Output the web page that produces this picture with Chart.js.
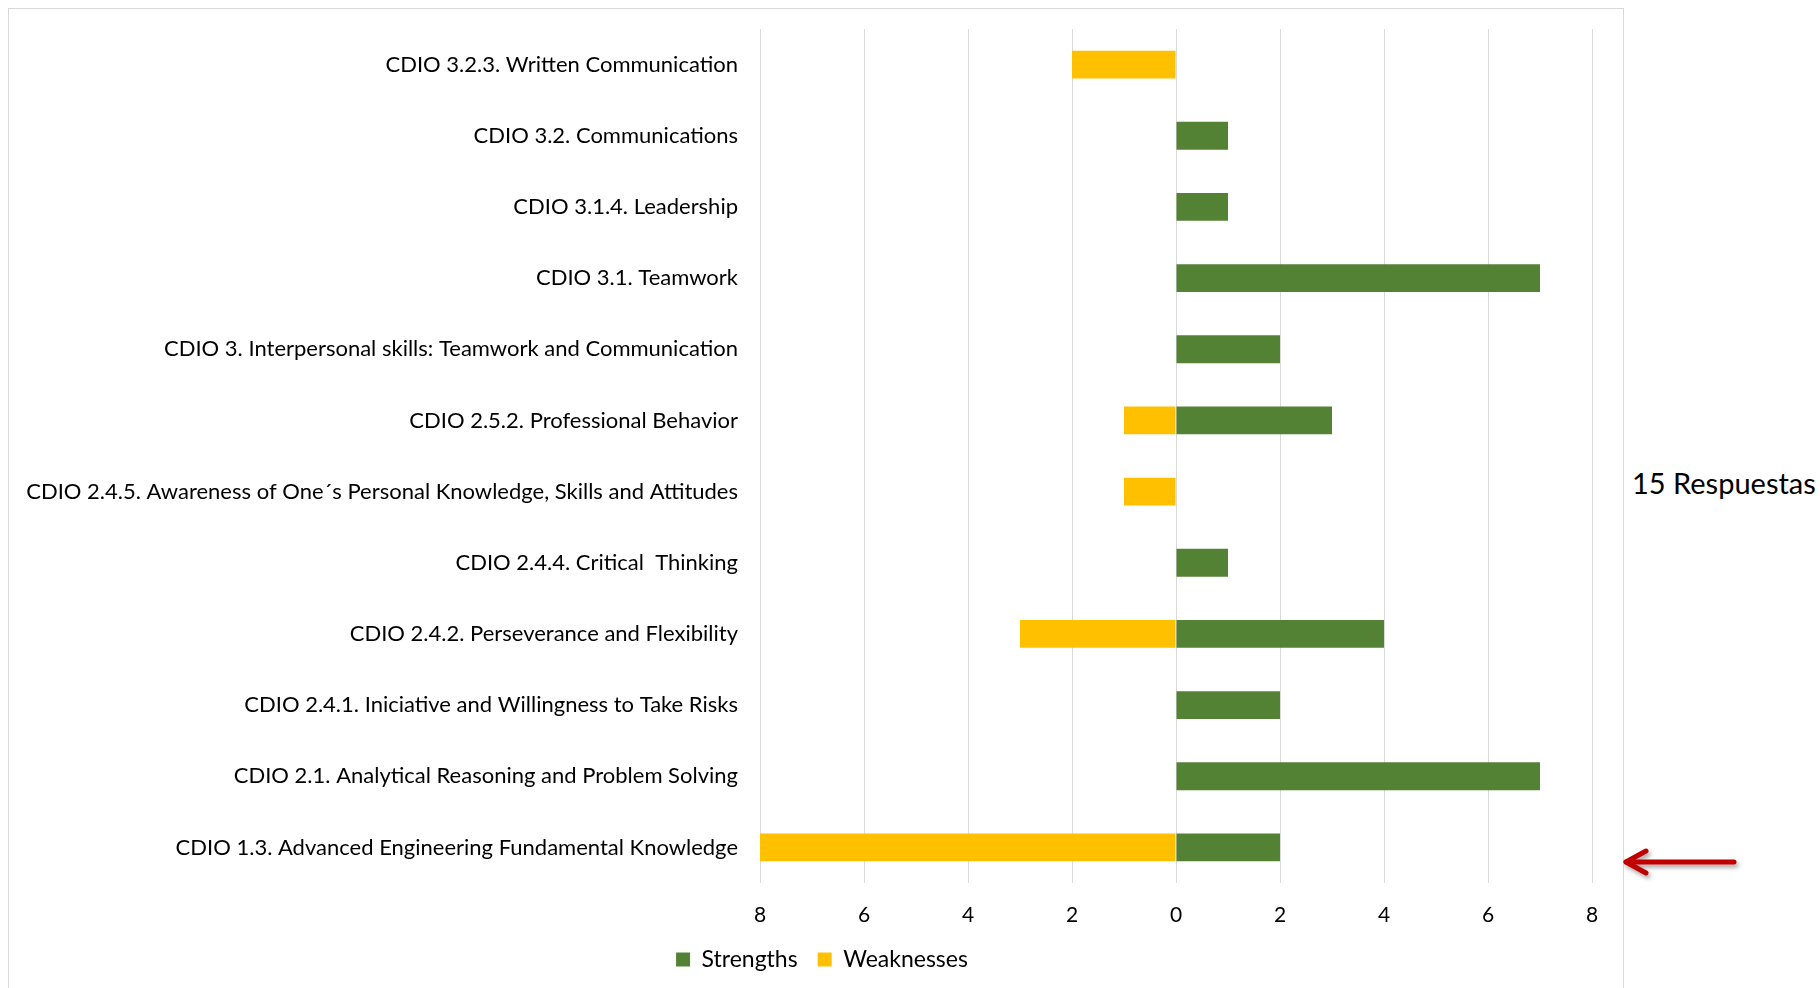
<!DOCTYPE html>
<html>
<head>
<meta charset="utf-8">
<script src="https://cdn.jsdelivr.net/npm/chart.js@4"></script>
<style>
  html, body { margin:0; padding:0; background:#fff; width:1820px; height:988px; overflow:hidden; }
  .chart-box { position:absolute; left:8px; top:8px; width:1614px; height:990px; border:1px solid #d9d9d9; border-bottom:none; }
  .note { position:absolute; left:1632px; top:465px; font-family:Lato, sans-serif; font-size:29px; color:#000; white-space:nowrap; }
  .arrow { position:absolute; left:1620px; top:840px; }
</style>
</head>
<body>
<div class="chart-box"><canvas id="cdio-chart" width="1614" height="990"></canvas></div>
<div class="note">15 Respuestas</div>
<svg class="arrow" width="130" height="44" viewBox="0 0 130 44">
  <defs>
    <filter id="sh" x="-20%" y="-50%" width="140%" height="200%">
      <feDropShadow dx="2" dy="3" stdDeviation="2" flood-color="#000" flood-opacity="0.35"/>
    </filter>
  </defs>
  <g filter="url(#sh)" stroke="#c00000" stroke-width="5" fill="none" stroke-linecap="round" stroke-linejoin="round">
    <line x1="6" y1="22" x2="114" y2="22"/>
    <polyline points="26,11 6,22 26,33"/>
  </g>
</svg>
<script>
// categories, top to bottom as in the picture
const categories = [
  'CDIO 3.2.3. Written Communication',
  'CDIO 3.2. Communications',
  'CDIO 3.1.4. Leadership',
  'CDIO 3.1. Teamwork',
  'CDIO 3. Interpersonal skills: Teamwork and Communication',
  'CDIO 2.5.2. Professional Behavior',
  'CDIO 2.4.5. Awareness of One\u00b4s Personal Knowledge, Skills and Attitudes',
  'CDIO 2.4.4. Critical  Thinking',
  'CDIO 2.4.2. Perseverance and Flexibility',
  'CDIO 2.4.1. Iniciative and Willingness to Take Risks',
  'CDIO 2.1. Analytical Reasoning and Problem Solving',
  'CDIO 1.3. Advanced Engineering Fundamental Knowledge'
];
const strengths  = [0, 1, 1, 7, 2, 3, 0, 1, 4, 2, 7, 2];
const weaknesses = [-2, 0, 0, 0, 0, -1, -1, 0, -3, 0, 0, -8];
const xTicks = [-8, -6, -4, -2, 0, 2, 4, 6, 8];

const FONT = 'Lato, sans-serif';
const PAD_LEFT = 12;     // together with PLOT_RIGHT_GAP keeps the legend centred like Excel
const PLOT_LEFT = 751;   // left edge of plot inside canvas
const PLOT_RIGHT_GAP = 31;
const X_AXIS_H = 45;     // room under the plot for the 8..0..8 labels

new Chart(document.getElementById('cdio-chart'), {
  type: 'bar',
  data: {
    labels: categories,
    datasets: [
      { label: 'Strengths', data: strengths, backgroundColor: '#548235', categoryPercentage: 1, barPercentage: 0.39 },
      { label: 'Weaknesses', data: weaknesses, backgroundColor: '#ffc000', categoryPercentage: 1, barPercentage: 0.39 }
    ]
  },
  options: {
    indexAxis: 'y',
    responsive: false,
    animation: false,
    layout: { padding: { left: PAD_LEFT, right: 0, top: 20, bottom: 18 } },
    plugins: {
      legend: {
        position: 'bottom',
        labels: { font: { family: FONT, size: 23 }, color: '#000', boxWidth: 14, boxHeight: 14, padding: 20 }
      },
      tooltip: { enabled: false }
    },
    scales: {
      x: {
        stacked: true,
        min: -8, max: 8,
        afterBuildTicks: s => { s.ticks = xTicks.map(v => ({ value: v })); },
        afterFit: s => { s.height = X_AXIS_H; s.paddingRight = PLOT_RIGHT_GAP; },
        ticks: { callback: v => Math.abs(v), font: { family: FONT, size: 21 }, color: '#000', padding: 20 },
        grid: { color: '#d9d9d9', drawTicks: false },
        border: { display: false }
      },
      y: {
        stacked: true,
        afterFit: s => { s.width = PLOT_LEFT - PAD_LEFT; s.paddingTop = 0; s.paddingBottom = 0; },
        ticks: { font: { family: FONT, size: 22 }, color: '#000', padding: 22, autoSkip: false },
        grid: { display: false, drawTicks: false },
        border: { display: false }
      }
    }
  }
});
</script>
</body>
</html>
